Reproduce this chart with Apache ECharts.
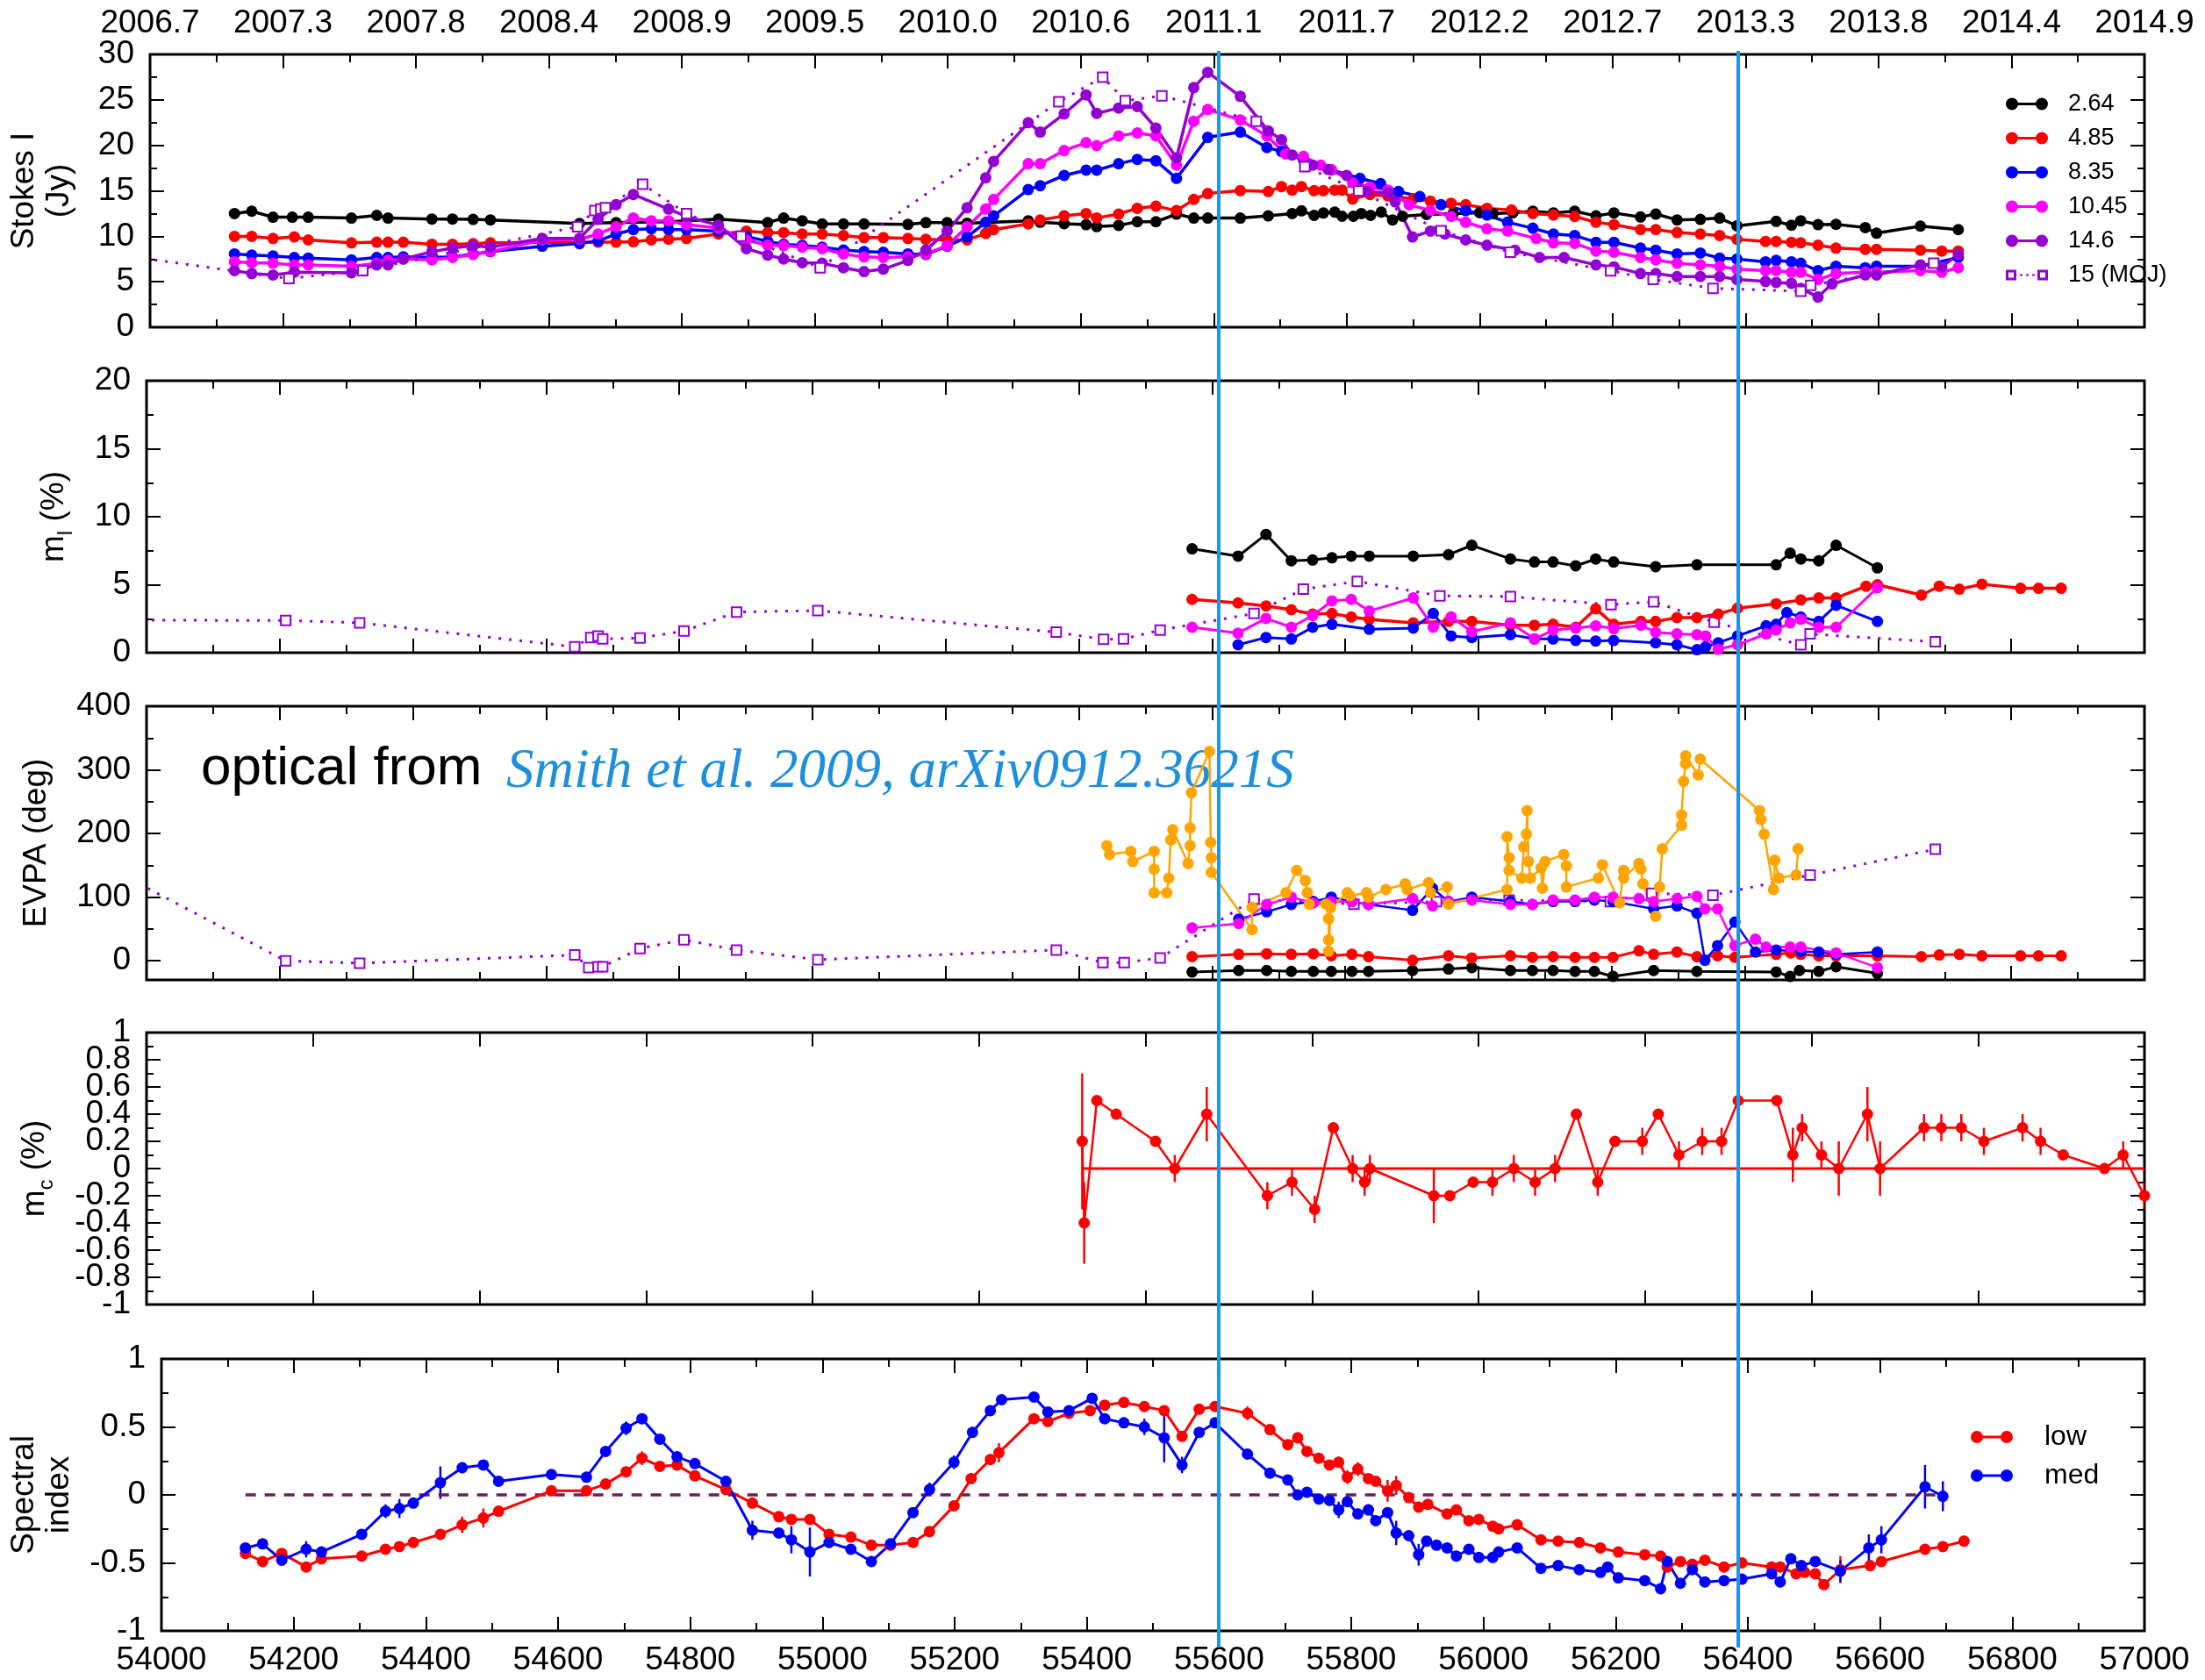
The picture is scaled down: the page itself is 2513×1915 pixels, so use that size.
<!DOCTYPE html>
<html><head><meta charset="utf-8">
<script src="https://cdn.jsdelivr.net/npm/echarts@6/dist/echarts.min.js"></script>
<style>html,body{margin:0;padding:0;background:#fff}#c{width:2513px;height:1915px}</style>
</head><body><div id="c"></div><script>
// ---------------- DATA ----------------
const topYearLabels = ['2006.7','2007.3','2007.8','2008.4','2008.9','2009.5','2010.0','2010.6','2011.1','2011.7','2012.2','2012.7','2013.3','2013.8','2014.4','2014.9'];
const vlineMJD = [55610, 56390];
const evpaTickLabels = [0,100,200,300,400];
const mcTickLabelsA = [1,0.6,0.4,0.2,0,-0.2,-0.4,-0.6,-1];
const mcTickLabelsB = [0.8,-0.8];

const stokes264 = [[54127,12.5],[54153,12.76],[54185,12.1],[54214,12.1],[54238,12.1],[54303,12.0],[54341,12.3],[54358,12.0],[54424,11.9],[54455,11.9],[54486,11.86],[54512,11.8],[54646,11.4],[54701,11.5],[54780,11.6],[54855,11.9],[54929,11.5],[54953,12.0],[54981,11.7],[55011,11.35],[55043,11.35],[55074,11.35],[55140,11.3],[55167,11.5],[55199,11.5],[55229,11.44],[55321,11.7],[55339,11.54],[55375,11.38],[55408,11.28],[55424,11.06],[55457,11.2],[55485,11.6],[55513,11.6],[55544,12.44],[55570,12.0],[55591,12.0],[55640,12.0],[55682,12.24],[55718,12.5],[55732,12.8],[55751,12.3],[55765,12.56],[55782,12.66],[55793,12.2],[55810,12.2],[55822,12.5],[55836,12.3],[55852,12.66],[55869,11.8],[55884,12.2],[55920,12.4],[55960,12.5],[56000,12.6],[56020,12.5],[56050,12.6],[56080,12.76],[56111,12.57],[56143,12.76],[56175,12.24],[56202,12.57],[56242,12.12],[56265,12.44],[56297,11.8],[56332,11.86],[56361,12.0],[56387,11.15],[56446,11.64],[56469,11.22],[56483,11.7],[56509,11.28],[56536,11.31],[56580,10.96],[56597,10.34],[56663,11.12],[56720,10.73]];
const stokes485 = [[54127,9.99],[54153,9.99],[54185,9.76],[54217,9.93],[54238,9.6],[54303,9.28],[54341,9.35],[54358,9.35],[54381,9.35],[54424,9.12],[54455,9.12],[54486,9.2],[54512,9.28],[54646,9.35],[54674,9.35],[54701,9.35],[54727,9.4],[54754,9.6],[54780,9.67],[54807,9.76],[54855,10.25],[54897,10.57],[54929,10.4],[54953,10.4],[54981,10.25],[55011,10.25],[55043,10.09],[55074,9.86],[55103,9.86],[55140,9.76],[55167,9.67],[55199,9.6],[55229,9.6],[55257,10.31],[55269,10.73],[55321,11.37],[55339,11.8],[55375,12.24],[55408,12.5],[55424,12.02],[55457,12.44],[55485,13.08],[55513,13.31],[55544,12.82],[55570,14.05],[55591,14.7],[55640,15.02],[55682,14.92],[55702,15.47],[55718,15.08],[55732,15.47],[55751,15.02],[55765,15.02],[55782,15.08],[55793,15.08],[55809,14.1],[55835,14.6],[55862,14.44],[55900,14.1],[55926,13.86],[55957,13.63],[55979,13.47],[56011,13.08],[56048,12.89],[56080,12.5],[56111,12.34],[56143,12.18],[56175,11.54],[56202,11.28],[56242,10.73],[56265,10.73],[56297,10.41],[56332,10.25],[56361,10.09],[56387,9.67],[56430,9.44],[56446,9.44],[56469,9.34],[56483,9.28],[56509,9.02],[56536,8.7],[56580,8.57],[56597,8.57],[56663,8.47],[56695,8.38],[56720,8.38]];
const stokes835 = [[54127,8.06],[54153,7.93],[54185,7.83],[54217,7.67],[54238,7.6],[54303,7.41],[54341,7.67],[54358,7.67],[54381,7.73],[54424,7.67],[54455,7.73],[54486,8.06],[54512,8.31],[54590,8.9],[54646,9.2],[54674,9.5],[54701,10.25],[54727,10.73],[54754,10.83],[54780,10.73],[54807,10.73],[54855,10.57],[54897,10.0],[54929,9.44],[54953,9.12],[54981,9.0],[55011,8.8],[55043,8.48],[55074,8.31],[55103,8.25],[55140,8.06],[55167,8.0],[55199,8.9],[55229,9.93],[55257,11.54],[55269,12.24],[55321,15.14],[55339,15.56],[55375,16.69],[55408,17.27],[55424,17.27],[55457,17.98],[55485,18.46],[55513,18.3],[55544,16.37],[55591,20.88],[55640,21.46],[55680,19.76],[55702,19.33],[55735,18.4],[55777,17.3],[55820,16.37],[55851,15.79],[55878,14.92],[55910,14.37],[55942,13.47],[55979,12.82],[56011,12.34],[56042,11.54],[56080,10.89],[56111,10.25],[56143,10.09],[56175,9.34],[56202,9.34],[56242,8.7],[56265,8.47],[56297,8.06],[56332,8.16],[56361,7.6],[56387,7.5],[56430,7.19],[56446,7.35],[56469,7.19],[56483,7.03],[56509,6.22],[56536,6.71],[56580,6.54],[56597,6.71],[56663,6.71],[56720,7.67]];
const stokes1045 = [[54127,7.19],[54153,7.09],[54185,7.03],[54217,6.86],[54238,6.86],[54303,6.7],[54341,7.03],[54358,7.35],[54381,7.5],[54424,7.41],[54455,7.67],[54486,7.99],[54512,8.31],[54590,9.6],[54646,9.67],[54674,10.25],[54701,11.05],[54727,12.02],[54754,11.7],[54780,11.7],[54807,11.28],[54855,10.89],[54897,9.6],[54929,9.02],[54953,8.96],[54981,8.8],[55011,8.64],[55043,8.06],[55074,7.73],[55103,7.67],[55140,7.73],[55167,8.06],[55199,8.96],[55229,11.05],[55257,12.99],[55269,14.05],[55321,17.98],[55339,17.98],[55375,19.43],[55408,20.3],[55424,19.97],[55457,21.04],[55485,21.36],[55513,21.04],[55544,17.82],[55570,22.65],[55591,23.94],[55640,22.8],[55680,21.04],[55708,19.05],[55735,18.78],[55761,17.82],[55777,17.34],[55809,15.89],[55835,15.4],[55862,15.08],[55894,13.47],[55926,12.83],[55957,12.18],[55979,11.54],[56011,10.83],[56042,10.58],[56085,9.76],[56111,9.28],[56143,9.22],[56175,8.38],[56202,8.25],[56242,7.67],[56265,7.41],[56297,7.03],[56332,6.86],[56361,6.7],[56387,6.38],[56430,6.22],[56446,6.22],[56469,6.05],[56483,6.05],[56509,5.25],[56536,5.9],[56580,6.05],[56597,6.05],[56663,6.22],[56695,6.05],[56720,6.54]];
const stokes146 = [[54127,6.22],[54153,5.9],[54185,5.74],[54217,6.06],[54303,5.99],[54341,6.86],[54358,6.86],[54381,7.5],[54424,8.31],[54455,8.7],[54486,8.96],[54512,8.8],[54590,9.76],[54646,9.76],[54674,11.86],[54701,13.47],[54727,14.6],[54780,12.99],[54807,12.18],[54855,11.21],[54897,8.64],[54929,7.93],[54953,7.5],[54981,7.09],[55011,7.03],[55043,6.54],[55074,6.12],[55103,6.38],[55140,7.35],[55167,8.48],[55199,10.57],[55229,13.14],[55257,16.43],[55269,18.24],[55321,22.49],[55339,21.46],[55375,23.46],[55408,25.55],[55424,23.52],[55457,24.1],[55485,24.26],[55513,21.9],[55544,18.62],[55570,26.35],[55591,28.03],[55640,25.39],[55682,21.59],[55702,20.62],[55718,18.94],[55749,17.82],[55772,17.34],[55800,16.7],[55831,14.92],[55862,14.76],[55873,13.79],[55899,9.93],[55926,10.57],[55948,10.25],[55979,9.6],[56011,9.02],[56053,8.47],[56090,7.67],[56127,7.67],[56175,6.86],[56202,6.64],[56242,5.9],[56265,5.9],[56297,5.57],[56332,5.57],[56361,5.57],[56387,5.25],[56430,5.03],[56446,4.93],[56469,4.83],[56483,4.28],[56509,3.32],[56530,4.77],[56580,5.74],[56597,5.74],[56663,6.86],[56695,6.64],[56720,8.0]];
const stokesMOJ = [[53850,9.0],[54209,5.35],[54320,6.22],[54643,11.05],[54669,12.83],[54678,12.99],[54685,13.15],[54741,15.73],[54807,12.5],[54889,10.0],[55008,6.54],[55367,24.8],[55433,27.5],[55467,24.9],[55522,25.45],[55664,22.65],[55737,17.66],[55818,15.0],[55942,10.6],[56046,8.25],[56197,6.2],[56261,5.25],[56351,4.28],[56483,3.96],[56498,4.6],[56683,7.03]];

const ml264 = [[55570,7.64],[55639,7.1],[55681,8.7],[55719,6.76],[55751,6.82],[55780,6.98],[55809,7.1],[55836,7.1],[55902,7.1],[55955,7.21],[55990,7.9],[56048,6.89],[56084,6.67],[56112,6.67],[56146,6.39],[56176,6.89],[56203,6.67],[56266,6.33],[56328,6.46],[56447,6.46],[56468,7.32],[56484,6.89],[56511,6.76],[56537,7.9],[56599,6.24]];
const ml485 = [[55570,3.92],[55639,3.66],[55681,3.44],[55719,3.16],[55751,2.84],[55780,2.88],[55809,2.63],[55836,2.45],[55902,2.2],[55955,2.3],[55990,2.3],[56048,2.02],[56084,2.02],[56112,2.09],[56146,1.87],[56176,3.23],[56203,2.09],[56244,2.3],[56266,2.3],[56298,2.58],[56328,2.58],[56360,2.84],[56389,3.27],[56447,3.6],[56484,3.88],[56511,4.03],[56537,4.03],[56582,4.89],[56599,5.0],[56665,4.24],[56692,4.89],[56722,4.67],[56756,5.04],[56814,4.74],[56841,4.74],[56875,4.74]];
const ml835 = [[55639,0.58],[55681,1.12],[55719,1.01],[55751,1.87],[55780,2.09],[55836,1.72],[55902,1.81],[55932,2.88],[55959,1.23],[55990,1.12],[56048,1.33],[56084,1.01],[56112,1.01],[56146,0.9],[56176,0.86],[56203,0.9],[56266,0.73],[56298,0.58],[56328,0.22],[56341,0.43],[56360,0.73],[56389,1.23],[56432,1.98],[56447,2.09],[56463,2.95],[56484,2.63],[56511,2.3],[56537,3.49],[56599,2.3]];
const ml1045 = [[55570,1.87],[55639,1.44],[55681,2.52],[55719,1.87],[55751,2.73],[55780,3.81],[55809,3.92],[55836,3.06],[55902,4.03],[55932,1.87],[55959,2.63],[55990,1.55],[56048,2.2],[56084,1.01],[56112,1.66],[56146,1.81],[56176,1.98],[56203,1.77],[56244,2.02],[56266,1.5],[56298,1.38],[56328,1.33],[56341,1.23],[56360,0.26],[56389,0.58],[56432,1.38],[56447,1.66],[56468,2.2],[56484,2.45],[56511,1.87],[56537,1.87],[56599,4.78]];
const mlMOJ = [[53850,2.4],[54209,2.37],[54320,2.2],[54643,0.43],[54667,1.12],[54678,1.23],[54685,1.01],[54741,1.08],[54807,1.59],[54886,2.99],[55008,3.1],[55366,1.51],[55437,0.98],[55467,1.01],[55522,1.66],[55663,2.88],[55737,4.67],[55818,5.25],[55942,4.18],[56048,4.13],[56199,3.53],[56263,3.75],[56354,2.24],[56484,0.58],[56498,1.38],[56686,0.8]];

const evpa264 = [[55570,-17.5],[55640,-15.2],[55682,-15.2],[55719,-16.6],[55752,-16.6],[55779,-16.6],[55810,-16.6],[55835,-16.6],[55901,-15.2],[55955,-12.9],[55990,-10.6],[56048,-15.2],[56081,-15.2],[56112,-15.2],[56145,-16.6],[56174,-16.6],[56202,-24.4],[56263,-15.2],[56328,-16.6],[56447,-17.5],[56468,-24.5],[56482,-15.2],[56511,-16.6],[56537,-9.2],[56599,-19.8]];
const evpa485 = [[55570,6.5],[55640,10.2],[55682,11.1],[55719,10.2],[55752,11.1],[55779,7.9],[55810,10.2],[55835,6.5],[55901,0.9],[55955,7.9],[55990,4.6],[56048,7.9],[56081,5.5],[56112,6.5],[56145,5.5],[56174,5.5],[56202,5.5],[56241,15.7],[56263,10.2],[56298,13.8],[56328,6.5],[56359,7.9],[56385,5.5],[56447,10.2],[56469,12.5],[56484,10.2],[56511,7.8],[56537,7.8],[56599,7.8],[56665,6.5],[56692,9.2],[56722,10.2],[56756,7.8],[56814,7.8],[56841,7.8],[56875,7.8]];
const evpa835 = [[55640,65.5],[55682,77],[55719,88.6],[55752,93.2],[55779,100],[55810,93.2],[55835,88.6],[55901,79.4],[55931,113.9],[55955,93.2],[55990,100],[56048,93.2],[56081,88.6],[56112,93.2],[56145,93.2],[56174,95.5],[56202,93.2],[56263,81.7],[56298,86.3],[56328,74.8],[56340,0.9],[56359,23.9],[56385,60.8],[56416,13.8],[56447,17],[56484,14.8],[56511,13.8],[56537,10.2],[56599,13.8]];
const evpa1045 = [[55570,51.7],[55640,58.6],[55682,88.6],[55719,100],[55752,90.9],[55779,93],[55810,93.2],[55835,88.6],[55901,97.7],[55931,86.3],[55955,93.2],[55990,95.5],[56048,88.6],[56081,88.6],[56112,95.5],[56145,95.5],[56174,100],[56202,100],[56241,97.7],[56263,93],[56298,97.7],[56328,101.4],[56340,81.7],[56359,81.7],[56385,23.9],[56416,34],[56432,21.7],[56468,21.7],[56484,21.7],[56537,12.5],[56599,-10.6]];
const evpaMOJ = [[53960,137],[54209,0],[54320,-3.7],[54643,9.2],[54664,-10.6],[54678,-9.2],[54685,-9.2],[54741,19.4],[54807,33.2],[54886,17],[55008,1.8],[55366,17],[55436,-2.8],[55468,-2.8],[55522,4.6],[55663,97],[55813,89],[55937,93],[56046,95.5],[56198,93],[56260,106],[56352,103],[56498,134.7],[56686,175.3]];
const evpaOptical = [[55442,181],[55446,167],[55478,172],[55481,156],[55513,172],[55513,144],[55513,107],[55532,107],[55535,130],[55538,190],[55541,206],[55564,153],[55567,181],[55567,209],[55569,264],[55596,329],[55598,186],[55599,162],[55599,139],[55660,49],[55660,84],[55711,107],[55727,142],[55740,126],[55743,107],[55746,89],[55771,89],[55775,66],[55775,33],[55775,15],[55778,84],[55803,107],[55807,102],[55832,107],[55835,100],[55861,112],[55890,121],[55893,112],[55925,123],[55928,107],[55953,116],[55955,89],[56043,112],[56043,195],[56046,162],[56046,142],[56065,130],[56068,179],[56072,199],[56073,236],[56075,156],[56078,130],[56094,146],[56096,114],[56100,156],[56128,167],[56132,149],[56132,116],[56180,130],[56186,151],[56212,91],[56218,142],[56218,130],[56241,153],[56244,144],[56247,121],[56266,70],[56272,116],[56276,176],[56305,213],[56305,229],[56308,282],[56311,310],[56311,322],[56330,292],[56333,317],[56422,236],[56424,222],[56429,199],[56443,112],[56445,158],[56451,130],[56477,135],[56480,176]];

// m_c: [MJD, value, error]
const mcData = [[55405,0.2,0.5],[55408,-0.4,0.3],[55427,0.5,0.03],[55456,0.4,0.02],[55515,0.2,0.02],[55544,0.0,0.1],[55592,0.4,0.2],[55683,-0.2,0.1],[55720,-0.1,0.1],[55754,-0.3,0.1],[55782,0.3,0.03],[55811,0.0,0.1],[55829,-0.1,0.1],[55837,0.0,0.1],[55933,-0.2,0.2],[55957,-0.2,0.03],[55992,-0.1,0.03],[56021,-0.1,0.1],[56053,0.0,0.1],[56085,-0.1,0.1],[56115,0.0,0.1],[56147,0.4,0.03],[56179,-0.1,0.1],[56205,0.2,0.03],[56246,0.2,0.1],[56270,0.4,0.03],[56301,0.1,0.1],[56336,0.2,0.1],[56365,0.2,0.1],[56390,0.5,0.03],[56448,0.5,0.03],[56472,0.1,0.2],[56486,0.3,0.1],[56515,0.1,0.1],[56541,0.0,0.2],[56584,0.4,0.2],[56603,0.0,0.2],[56669,0.3,0.1],[56695,0.3,0.1],[56725,0.3,0.1],[56759,0.2,0.1],[56817,0.3,0.1],[56844,0.2,0.1],[56878,0.1,0.03],[56940,0.0,0.03],[56968,0.1,0.1],[57000,-0.2,0.1]];
const mcZero = [[55405,0],[57000,0]];

// Spectral index: [MJD, value, error]
const specLow = [[54127,-0.43,0.02],[54153,-0.49,0.02],[54182,-0.43,0.03],[54219,-0.53,0.02],[54242,-0.47,0.02],[54303,-0.45,0.02],[54339,-0.4,0.02],[54360,-0.38,0.03],[54381,-0.35,0.03],[54422,-0.29,0.03],[54455,-0.22,0.06],[54487,-0.17,0.07],[54510,-0.12,0.03],[54590,0.03,0.02],[54643,0.03,0.02],[54672,0.08,0.02],[54703,0.17,0.03],[54727,0.27,0.05],[54754,0.21,0.03],[54780,0.22,0.03],[54807,0.14,0.03],[54854,0.04,0.03],[54894,-0.06,0.02],[54934,-0.16,0.02],[54953,-0.18,0.02],[54981,-0.18,0.03],[55010,-0.29,0.03],[55043,-0.31,0.03],[55074,-0.37,0.03],[55103,-0.37,0.02],[55137,-0.35,0.02],[55162,-0.27,0.03],[55199,-0.08,0.03],[55225,0.12,0.04],[55254,0.26,0.04],[55267,0.31,0.07],[55320,0.56,0.02],[55341,0.54,0.02],[55373,0.6,0.02],[55405,0.62,0.03],[55427,0.66,0.03],[55456,0.68,0.02],[55487,0.65,0.02],[55517,0.62,0.03],[55544,0.43,0.03],[55570,0.63,0.03],[55594,0.65,0.02],[55643,0.6,0.05],[55677,0.48,0.03],[55704,0.37,0.03],[55719,0.42,0.04],[55733,0.32,0.03],[55751,0.27,0.03],[55767,0.22,0.03],[55781,0.24,0.04],[55794,0.13,0.05],[55810,0.19,0.05],[55826,0.12,0.04],[55837,0.1,0.03],[55855,0.03,0.08],[55868,0.07,0.07],[55887,-0.02,0.03],[55902,-0.09,0.04],[55916,-0.07,0.03],[55945,-0.14,0.03],[55959,-0.11,0.03],[55978,-0.19,0.03],[55993,-0.18,0.03],[56014,-0.23,0.03],[56023,-0.25,0.03],[56051,-0.22,0.03],[56087,-0.33,0.03],[56113,-0.34,0.03],[56145,-0.35,0.03],[56177,-0.39,0.03],[56204,-0.42,0.02],[56244,-0.44,0.03],[56268,-0.45,0.03],[56278,-0.53,0.04],[56298,-0.49,0.03],[56316,-0.51,0.02],[56335,-0.48,0.03],[56364,-0.53,0.02],[56391,-0.5,0.03],[56436,-0.53,0.02],[56449,-0.53,0.03],[56473,-0.58,0.03],[56486,-0.57,0.03],[56502,-0.58,0.03],[56515,-0.66,0.03],[56540,-0.55,0.1],[56585,-0.52,0.03],[56602,-0.49,0.03],[56668,-0.4,0.04],[56695,-0.38,0.03],[56727,-0.34,0.04]];
const specMed = [[54127,-0.39,0.03],[54153,-0.36,0.03],[54182,-0.48,0.03],[54219,-0.4,0.06],[54242,-0.42,0.04],[54303,-0.29,0.03],[54339,-0.12,0.05],[54360,-0.1,0.07],[54381,-0.06,0.03],[54422,0.09,0.12],[54455,0.2,0.04],[54487,0.22,0.03],[54510,0.1,0.02],[54590,0.15,0.02],[54643,0.13,0.03],[54672,0.32,0.03],[54703,0.49,0.05],[54727,0.56,0.03],[54754,0.41,0.03],[54780,0.28,0.03],[54807,0.23,0.03],[54854,0.1,0.03],[54894,-0.26,0.07],[54934,-0.28,0.03],[54953,-0.33,0.1],[54981,-0.42,0.18],[55010,-0.35,0.03],[55043,-0.4,0.03],[55074,-0.49,0.03],[55103,-0.36,0.03],[55137,-0.13,0.03],[55162,0.04,0.05],[55199,0.24,0.05],[55227,0.46,0.03],[55254,0.62,0.03],[55271,0.7,0.03],[55320,0.72,0.02],[55341,0.61,0.02],[55373,0.62,0.02],[55408,0.71,0.03],[55427,0.56,0.03],[55456,0.53,0.04],[55487,0.5,0.06],[55517,0.42,0.18],[55544,0.22,0.06],[55570,0.46,0.03],[55594,0.53,0.03],[55643,0.3,0.03],[55677,0.16,0.03],[55704,0.11,0.03],[55719,0.0,0.03],[55733,0.02,0.03],[55751,-0.03,0.03],[55767,-0.04,0.03],[55781,-0.11,0.06],[55794,-0.05,0.03],[55810,-0.14,0.04],[55826,-0.11,0.04],[55837,-0.19,0.03],[55855,-0.13,0.03],[55868,-0.28,0.09],[55887,-0.3,0.03],[55902,-0.44,0.08],[55914,-0.34,0.03],[55929,-0.37,0.03],[55945,-0.39,0.03],[55959,-0.45,0.03],[55978,-0.4,0.03],[55993,-0.46,0.03],[56014,-0.46,0.03],[56023,-0.42,0.03],[56051,-0.39,0.03],[56087,-0.54,0.03],[56113,-0.52,0.03],[56145,-0.55,0.03],[56177,-0.57,0.03],[56188,-0.53,0.03],[56204,-0.61,0.03],[56244,-0.63,0.03],[56268,-0.69,0.04],[56278,-0.49,0.04],[56298,-0.65,0.03],[56316,-0.55,0.03],[56335,-0.64,0.03],[56364,-0.63,0.03],[56391,-0.62,0.03],[56436,-0.58,0.03],[56449,-0.64,0.04],[56465,-0.47,0.03],[56481,-0.52,0.03],[56502,-0.49,0.03],[56540,-0.56,0.08],[56583,-0.39,0.1],[56602,-0.33,0.1],[56668,0.06,0.16],[56695,-0.01,0.11]];
const specZero = [[54127,0],[56690,0]];

// ---------------- STYLE / LAYOUT ----------------
const FONT = 'Liberation Sans';
const C = {black:'#000000', red:'#ff0000', blue:'#0000ff', magenta:'#ff00ff', purple:'#9400d3', orange:'#ffa500', vline:'#1e96e8', text:'#1e8fdc', zero:'#6b1d5c'};
const LEFT = 167, RIGHT = 69;
const panels = [
  {top:62, height:311, min:0, max:30, interval:5},
  {top:434, height:310, min:0, max:20, interval:5},
  {top:805, height:312, min:-30, max:400, interval:100},
  {top:1177, height:310, min:-1, max:1, interval:0.2},
  {top:1549, height:310, min:-1, max:1, interval:0.5}
];
const tickStyle = {color:'#000', width:2};
const labelStyle = {fontSize:37, lineHeight:24, fontFamily:FONT, color:'#000', margin:18};
const grids = panels.map(p => ({left:LEFT, right:RIGHT, top:p.top, height:p.height, show:true, borderColor:'#000', borderWidth:3, backgroundColor:'transparent'}));
grids.push({left:LEFT, right:RIGHT, top:58, bottom:1915-1878});

const xAxes = [];
panels.forEach((p, i) => {
  ['bottom','top'].forEach(pos => {
    const showLabel = (i === 4 && pos === 'bottom') || (i === 0 && pos === 'top');
    xAxes.push({
      gridIndex:i, type:'value', position:pos, min:54000, max:57000, interval:(i===3?250:200),
      axisLine:{show:false, onZero:false}, splitLine:{show:false},
      axisTick:{inside:true, length:16, lineStyle:tickStyle},
      minorTick:{show:i!==3, splitNumber:2, length:9, lineStyle:tickStyle},
      axisLabel:{show:showLabel, interval:0, fontSize:37, fontFamily:FONT, color:'#000', margin:pos==='top'?17:15,
        showMinLabel:true, showMaxLabel:true, hideOverlap:false,
        formatter: pos==='top' ? (v => topYearLabels[Math.round((v-54000)/200)]) : (v => String(v))}
    });
  });
});
xAxes.push({gridIndex:5, type:'value', min:54000, max:57000, show:false, axisLine:{onZero:false}});

const names = [
  {name:'Stokes I\n(Jy)', gap:83, style:{lineHeight:40}},
  {name:'m{sub|l} (%)', gap:80, style:{lineHeight:50}},
  {name:'EVPA (deg)', gap:103, style:{lineHeight:44}},
  {name:'m{sub|c} (%)', gap:102, style:{lineHeight:50}},
  {name:'Spectral\nindex', gap:96, style:{lineHeight:40}}
];
const yAxes = [];
panels.forEach((p, i) => {
  const evpa = i === 2;
  ['left','right'].forEach(pos => {
    const ax = {
      gridIndex:i, type:'value', position:pos, min:p.min, max:p.max,
      axisLine:{show:false, onZero:false}, splitLine:{show:false},
      axisTick:{inside:true, length:16, lineStyle:tickStyle},
      minorTick:{show:!evpa, splitNumber:2, length:8, lineStyle:tickStyle},
      axisLabel:Object.assign({show:pos==='left', interval:0, hideOverlap:false, showMinLabel:true, showMaxLabel:true}, labelStyle)
    };
    if (evpa) {
      ax.axisTick.customValues = evpaTickLabels;
      ax.axisLabel.customValues = evpaTickLabels;
    } else {
      ax.interval = p.interval;
    }
    if (i === 3) ax.axisLabel.customValues = mcTickLabelsA;
    if (pos === 'left') {
      ax.name = names[i].name;
      ax.nameLocation = 'middle';
      ax.nameGap = names[i].gap;
      ax.nameRotate = 90;
      ax.nameTextStyle = Object.assign({fontSize:37, fontFamily:FONT, color:'#000',
        rich:{sub:{fontSize:24, lineHeight:24, verticalAlign:'bottom', fontFamily:FONT, color:'#000'}}}, names[i].style);
    }
    yAxes.push(ax);
  });
});
yAxes.push({gridIndex:5, type:'value', min:0, max:1, show:false, axisLine:{onZero:false}});
// EVPA minor ticks (50, 150, ...)
['left','right'].forEach(pos => {
  yAxes.push({gridIndex:2, type:'value', position:pos, min:-30, max:400,
    axisLine:{show:false, onZero:false}, splitLine:{show:false}, axisLabel:{show:false},
    axisTick:{inside:true, length:8, lineStyle:tickStyle, customValues:[50,150,250,350]}});
});
// m_c extra labels (0.8, -0.8)
yAxes.push({gridIndex:3, type:'value', position:'left', min:-1, max:1,
  axisLine:{show:false, onZero:false}, splitLine:{show:false}, axisTick:{show:false},
  axisLabel:Object.assign({show:true, customValues:mcTickLabelsB, hideOverlap:false}, labelStyle)});

// ---------------- SERIES ----------------
function lineS(name, data, panel, color, opt) {
  opt = opt || {};
  return {
    type:'line', name, data, xAxisIndex:panel*2, yAxisIndex:panel*2,
    symbol: opt.symbol || 'circle', symbolSize: opt.size || 13,
    showAllSymbol:true, clip:true, animation:false,
    lineStyle:{color, width: opt.width || 3, type: opt.dash || 'solid'},
    itemStyle:{color, borderColor:color, borderWidth: opt.bw || 0},
    emphasis:{disabled:true}, z: opt.z || 2
  };
}
function errS(data, panel, color, w) {
  return {
    type:'custom', xAxisIndex:panel*2, yAxisIndex:panel*2, data, clip:true, animation:false,
    encode:{x:0, y:1}, silent:true,
    renderItem:(params, api) => {
      const x = api.value(0), y = api.value(1), e = api.value(2);
      const a = api.coord([x, y - e]), b = api.coord([x, y + e]);
      return {type:'line', shape:{x1:a[0], y1:a[1], x2:b[0], y2:b[1]}, style:{stroke:color, lineWidth:w || 2.5}};
    }
  };
}
const mojOpt = {symbol:'emptyRect', size:11, width:3, dash:[3,9], bw:3};

const series = [
  lineS('2.64', stokes264, 0, C.black, {width:3.5}),
  lineS('4.85', stokes485, 0, C.red, {width:3.5}),
  lineS('8.35', stokes835, 0, C.blue, {width:3.5}),
  lineS('10.45', stokes1045, 0, C.magenta, {width:3.5}),
  lineS('14.6', stokes146, 0, C.purple, {width:3.5}),
  lineS('15 (MOJ)', stokesMOJ, 0, C.purple, mojOpt),

  lineS('ml 15', mlMOJ, 1, C.purple, mojOpt),
  lineS('ml 2.64', ml264, 1, C.black, {width:3}),
  lineS('ml 4.85', ml485, 1, C.red, {width:3.5}),
  lineS('ml 8.35', ml835, 1, C.blue, {width:3}),
  lineS('ml 10.45', ml1045, 1, C.magenta, {width:3}),

  lineS('ev 15', evpaMOJ, 2, C.purple, mojOpt),
  lineS('ev 2.64', evpa264, 2, C.black, {width:3}),
  lineS('ev 4.85', evpa485, 2, C.red, {width:3}),
  lineS('ev 8.35', evpa835, 2, C.blue, {width:2.5}),
  lineS('ev 10.45', evpa1045, 2, C.magenta, {width:2.5}),
  lineS('optical', evpaOptical, 2, C.orange, {width:2.5}),

  lineS('mc zero', mcZero, 3, C.red, {symbol:'none', width:3}),
  errS(mcData, 3, C.red, 2.5),
  lineS('mc', mcData.map(d => [d[0], d[1]]), 3, C.red, {width:2.5}),

  lineS('spec zero', specZero, 4, C.zero, {symbol:'none', width:3.5, dash:[12,10]}),
  errS(specLow, 4, C.red, 2.5),
  lineS('low', specLow.map(d => [d[0], d[1]]), 4, C.red, {width:3}),
  errS(specMed, 4, C.blue, 2.5),
  lineS('med', specMed.map(d => [d[0], d[1]]), 4, C.blue, {width:3})
];
vlineMJD.forEach(v => {
  series.push({type:'line', xAxisIndex:10, yAxisIndex:10, data:[[v,0],[v,1]], symbol:'none',
    lineStyle:{color:C.vline, width:4}, animation:false, silent:true, z:20});
});

const iconLine = 'path://M7,0A7,7,0,1,1,7,14A7,7,0,1,1,7,0Z M41,0A7,7,0,1,1,41,14A7,7,0,1,1,41,0Z M7,5.5H41V8.5H7Z';
const iconMoj = 'path://M0,1H12V13H0Z M3,4V10H9V4Z M16,6H19V8H16Z M23,6H26V8H23Z M30,6H33V8H30Z M36,1H48V13H36Z M39,4V10H45V4Z';

const option = {
  backgroundColor:'#fff',
  animation:false,
  grid: grids,
  xAxis: xAxes,
  yAxis: yAxes,
  series,
  legend: [
    {data:['2.64','4.85','8.35','10.45','14.6','15 (MOJ)'].map(n => ({name:n, icon: n==='15 (MOJ)' ? iconMoj : iconLine})),
     orient:'vertical', left:2281, top:100, itemWidth:48, itemHeight:14, itemGap:12,
     selectedMode:false, itemStyle:{borderWidth:0}, lineStyle:{width:0},
     textStyle:{fontSize:27, fontFamily:FONT, color:'#000', padding:[0,0,0,18]}},
    {data:['low','med'].map(n => ({name:n, icon:iconLine})),
     orient:'vertical', left:2241, top:1617, itemWidth:50, itemHeight:14, itemGap:12,
     selectedMode:false, itemStyle:{borderWidth:0},
     textStyle:{fontSize:32, fontFamily:FONT, color:'#000', padding:[0,0,0,30]}}
  ],
  graphic: [
    {type:'text', left:229, top:846, z:0, silent:true, style:{text:'optical from', font:'62px "Liberation Sans"', fill:'#000'}},
    {type:'text', left:577, top:849, z:0, silent:true, style:{text:'Smith et al. 2009, arXiv0912.3621S', font:'italic 63px "Liberation Serif"', fill:C.text}}
  ]
};
const chart = echarts.init(document.getElementById('c'), null, {renderer:'canvas', width:2513, height:1915});
chart.setOption(option);
</script></body></html>
